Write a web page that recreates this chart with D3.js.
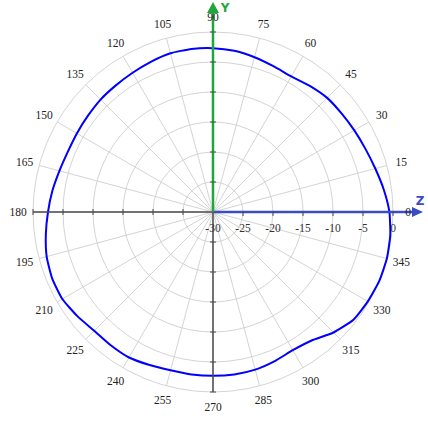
<!DOCTYPE html>
<html><head><meta charset="utf-8">
<script src="https://cdn.jsdelivr.net/npm/d3@7"></script>
<style>html,body{margin:0;padding:0;background:#fff;}svg{display:block;}</style>
</head><body>
<svg id="c" width="428" height="423"></svg>
<script>
// Data (angle in degrees, level in dB)
const angles = [0,7.5,15,22.5,30,37.5,45,52.5,60,67.5,75,82.5,90,97.5,105,112.5,120,127.5,135,142.5,150,157.5,165,172.5,180,187.5,195,202.5,210,217.5,225,232.5,240,247.5,255,262.5,270,277.5,285,292.5,300,307.5,315,322.5,330,337.5,345,352.5];
const levels = [-0.6,-1.3,-2.0,-2.5,-2.8,-3.0,-3.1,-3.5,-3.9,-3.7,-3.3,-2.9,-2.7,-2.6,-2.6,-2.9,-3.2,-3.4,-3.5,-3.7,-3.8,-3.8,-3.5,-3.0,-2.5,-1.9,-1.3,-1.0,-1.0,-1.5,-2.0,-2.0,-2.0,-2.4,-2.7,-2.7,-2.7,-2.7,-2.8,-3.1,-3.4,-3.0,-1.6,-0.5,-0.2,0,0,-0.2];
const angleTicks = [0,15,30,45,60,75,90,105,120,135,150,165,180,195,210,225,240,255,270,285,300,315,330,345];
const radialTicks = [-30,-25,-20,-15,-10,-5,0];
const radialTickLabels = ["-30","-25","-20","-15","-10","-5","0"];

const svg = d3.select("#c");
const cx = 213, cy = 212, R = 180;
const r = d3.scaleLinear().domain([-30, 0]).range([0, R]);
const toRad = d => d * Math.PI / 180;
const px = (deg, rad) => cx + rad * Math.cos(toRad(deg));
const py = (deg, rad) => cy - rad * Math.sin(toRad(deg));
const grid = "#d4d4d4", axisDark = "#4a4a4a", blue = "#3a4cc4", green = "#1fa83a";
const font = "'Liberation Serif','Times New Roman',serif";

const g = svg.append("g");
// grid circles
g.selectAll("circle.grid").data(radialTicks.slice(1)).enter().append("circle")
  .attr("cx", cx).attr("cy", cy).attr("r", d => r(d))
  .attr("fill", "none").attr("stroke", grid).attr("stroke-width", 1);
// spokes
g.selectAll("line.spoke").data(angleTicks).enter().append("line")
  .attr("x1", cx).attr("y1", cy)
  .attr("x2", d => px(d, R)).attr("y2", d => py(d, R))
  .attr("stroke", grid).attr("stroke-width", 1);

// curve
const pts = angles.map((a, i) => [px(a, r(levels[i])), py(a, r(levels[i]))]);
g.append("path").attr("d", d3.line().curve(d3.curveCardinalClosed.tension(0.5))(pts))
  .attr("fill", "none").attr("stroke", "#0000ff").attr("stroke-width", 2);

// dark axes: left half and bottom half
g.append("line").attr("x1", px(180, R)).attr("y1", cy).attr("x2", cx).attr("y2", cy)
  .attr("stroke", axisDark).attr("stroke-width", 1.5);
g.append("line").attr("x1", cx).attr("y1", cy).attr("x2", cx).attr("y2", py(270, R))
  .attr("stroke", axisDark).attr("stroke-width", 1.5);
// ticks on left & bottom
const tickVals = radialTicks.slice(1);
g.selectAll("line.tl").data(tickVals).enter().append("line")
  .attr("x1", d => cx - r(d)).attr("x2", d => cx - r(d)).attr("y1", cy - 3).attr("y2", cy + 3)
  .attr("stroke", axisDark).attr("stroke-width", 1);
g.selectAll("line.tb").data(tickVals).enter().append("line")
  .attr("y1", d => cy + r(d)).attr("y2", d => cy + r(d)).attr("x1", cx - 3).attr("x2", cx + 3)
  .attr("stroke", axisDark).attr("stroke-width", 1);

// Z axis (blue)
g.append("line").attr("x1", cx).attr("y1", cy).attr("x2", 416).attr("y2", cy)
  .attr("stroke", blue).attr("stroke-width", 2.5);
g.append("path").attr("d", `M423,${cy} L412,${cy-5} L412,${cy+5} Z`).attr("fill", blue);
g.append("text").attr("x", 420).attr("y", 205).attr("text-anchor", "middle")
  .attr("font-family", "'DejaVu Sans',sans-serif").attr("font-weight", "bold").attr("font-size", 12)
  .attr("fill", blue).text("Z");
// Y axis (green)
g.append("line").attr("x1", cx).attr("y1", cy).attr("x2", cx).attr("y2", 10)
  .attr("stroke", green).attr("stroke-width", 2.5);
g.append("path").attr("d", `M${cx},2 L${cx-6},13 L${cx+6},13 Z`).attr("fill", green);
g.append("text").attr("x", 225).attr("y", 12).attr("text-anchor", "middle")
  .attr("font-family", "'DejaVu Sans',sans-serif").attr("font-weight", "bold").attr("font-size", 12)
  .attr("fill", green).text("Y");

// ticks on right & top
g.selectAll("line.tr").data(tickVals).enter().append("line")
  .attr("x1", d => cx + r(d)).attr("x2", d => cx + r(d)).attr("y1", cy - 1).attr("y2", cy + 4)
  .attr("stroke", axisDark).attr("stroke-width", 1);
g.selectAll("line.tt").data(tickVals).enter().append("line")
  .attr("y1", d => cy - r(d)).attr("y2", d => cy - r(d)).attr("x1", cx - 3).attr("x2", cx + 3)
  .attr("stroke", axisDark).attr("stroke-width", 1);

// radial tick labels
g.selectAll("text.rl").data(radialTicks).enter().append("text")
  .attr("x", d => cx + r(d)).attr("y", cy + 20).attr("text-anchor", "middle")
  .attr("font-family", font).attr("font-size", 11.5).attr("fill", "#333")
  .text((d, i) => radialTickLabels[i]);

// angle labels
g.selectAll("text.al").data(angleTicks).enter().append("text")
  .attr("x", d => px(d, 195)).attr("y", d => py(d, 195)).attr("dy", "0.35em")
  .attr("text-anchor", "middle")
  .attr("font-family", font).attr("font-size", 11.5).attr("fill", "#222")
  .text(d => d);
</script>
</body></html>
